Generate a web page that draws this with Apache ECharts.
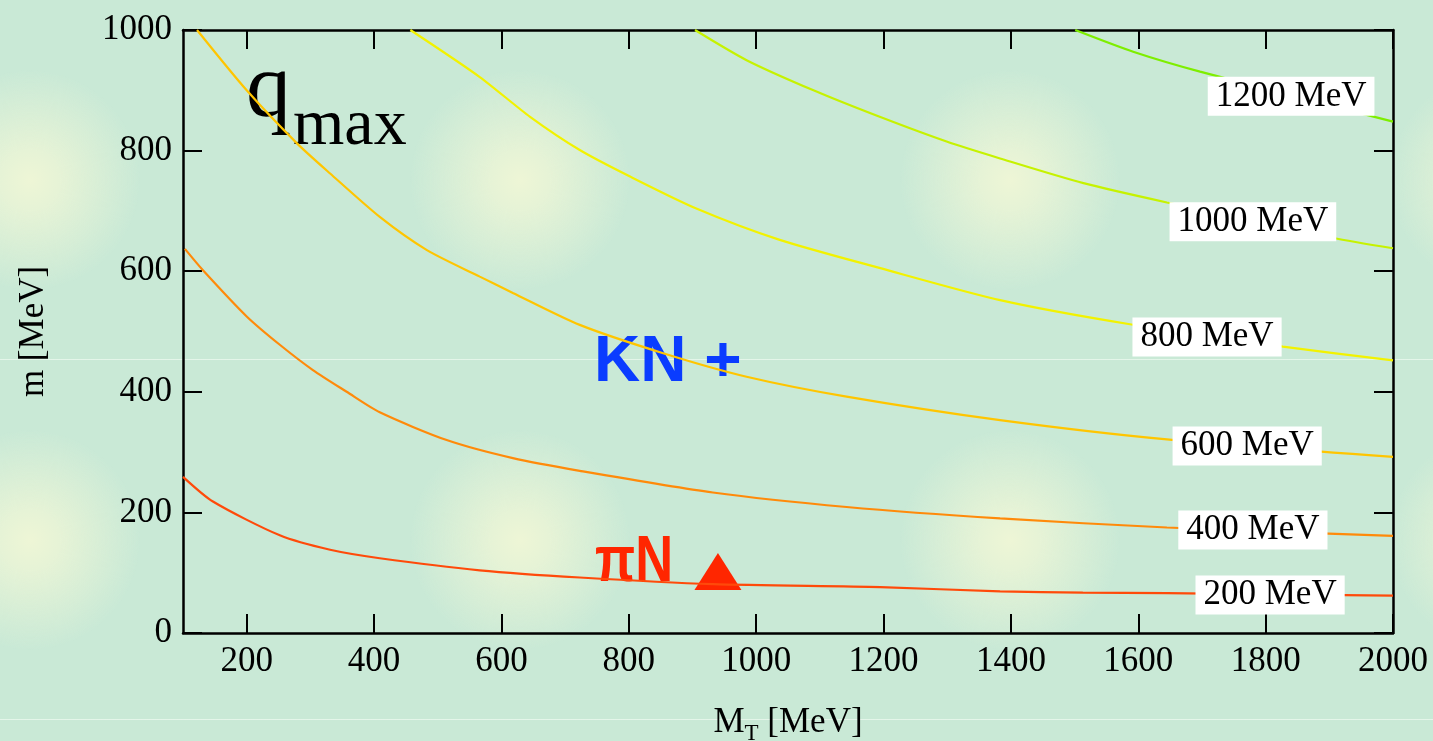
<!DOCTYPE html>
<html>
<head>
<meta charset="utf-8">
<script src="https://cdn.jsdelivr.net/npm/echarts@6/dist/echarts.min.js"></script>
<style>
html, body { margin: 0; padding: 0; }
body {
  width: 1433px; height: 741px; overflow: hidden;
  background-color: #c9e9d6;
  background-image:
    linear-gradient(to bottom, rgba(255,255,255,0) 359px, rgba(235,248,238,0.8) 359px, rgba(235,248,238,0.8) 361px, rgba(255,255,255,0) 361px),
    radial-gradient(circle 110px at 245px 180px, #eef6d6 0px, #e6f3d6 30px, rgba(201,233,214,0) 110px);
  background-size: 490px 360px;
  background-position: -215px 0;
}
#chart { width: 1433px; height: 741px; }
</style>
</head>
<body>
<div id="chart"></div>
<script>
// x ticks / labels (MeV)
const xTicks = [200, 400, 600, 800, 1000, 1200, 1400, 1600, 1800, 2000];

// contour lines of q_max: [M_T, m]
const q200 = [[100, 259], [147, 218], [252, 162], [331, 138], [409, 124], [566, 104], [723, 92],
  [932, 81], [1195, 76], [1383, 69], [1513, 67], [1645, 66], [2000, 62]];
const q400 = [[103, 637], [131, 602], [200, 525], [252, 478], [304, 436], [357, 400], [409, 366],
  [514, 320], [618, 290], [723, 269], [932, 233], [1142, 209], [1383, 190], [1645, 175], [2000, 161]];
const q600 = [[122, 1000], [200, 900], [279, 812], [331, 762], [409, 690], [483, 635], [566, 591],
  [618, 564], [723, 511], [854, 464], [985, 425], [1142, 392], [1383, 353], [1645, 321], [2000, 292]];
const q800 = [[457, 1000], [566, 922], [645, 856], [723, 801], [802, 757], [906, 704], [1037, 652],
  [1195, 605], [1383, 552], [1587, 512], [1827, 475], [2000, 452]];
const q1000 = [[904, 1000], [985, 950], [1090, 900], [1194, 856], [1299, 815], [1383, 787],
  [1514, 746], [1645, 714], [1906, 655], [2000, 638]];
const q1200 = [[1501, 1000], [1592, 964], [1697, 931], [2000, 848]];

const curves = [q200, q400, q600, q800, q1000, q1200];
const curveNames = ['200 MeV', '400 MeV', '600 MeV', '800 MeV', '1000 MeV', '1200 MeV'];
// where the white name boxes sit, in data coords
const nameAt = [[1807, 63], [1780, 171], [1771, 310], [1708, 491], [1780, 682], [1840, 890]];

// the nucleon marker
const nucleon = [[940, 102]];

const lineColors = ['#ff4a0a', '#ff8a0a', '#ffc500', '#f2f200', '#c6f200', '#7eee00'];
const serif = '"Liberation Serif", "Times New Roman", serif';

const chart = echarts.init(document.getElementById('chart'));

const frameLine = { show: true, onZero: false, lineStyle: { color: '#000', width: 2.5 } };
const frameTick = { show: true, inside: true, length: 19, lineStyle: { color: '#000', width: 2 } };

const series = curves.map((pts, i) => ({
  type: 'line',
  name: curveNames[i],
  data: pts,
  smooth: 0.25,
  showSymbol: false,
  silent: true,
  lineStyle: { color: lineColors[i], width: 2.2 },
  markPoint: {
    symbol: 'rect',
    symbolSize: 1,
    silent: true,
    animation: false,
    itemStyle: { color: 'rgba(0,0,0,0)' },
    label: {
      show: true,
      position: 'inside',
      formatter: curveNames[i],
      color: '#000',
      fontFamily: serif,
      fontSize: 35,
      backgroundColor: '#fff',
      padding: [3, 8, 1, 8]
    },
    data: [{ coord: nameAt[i] }]
  }
}));

series.push({
  type: 'scatter',
  data: nucleon,
  symbol: 'triangle',
  symbolSize: [47, 37],
  silent: true,
  itemStyle: { color: '#ff2600', opacity: 1 }
});

const plain = v => String(v);

chart.setOption({
  animation: false,
  backgroundColor: 'transparent',
  grid: { left: 183, right: 40, top: 30, bottom: 108, outerBoundsMode: 'none', containLabel: false },
  xAxis: [{
    type: 'value', min: 100, max: 2000, position: 'bottom',
    axisLine: frameLine,
    axisTick: Object.assign({ customValues: xTicks }, frameTick),
    axisLabel: { customValues: xTicks, formatter: plain, margin: 11, color: '#000', fontFamily: serif, fontSize: 35 },
    splitLine: { show: false },
    name: '{a|M}{b|T}{a| [MeV]}',
    nameLocation: 'middle',
    nameGap: 68,
    nameTextStyle: {
      rich: {
        a: { fontFamily: serif, fontSize: 35, color: '#000', lineHeight: 44 },
        b: { fontFamily: serif, fontSize: 23, color: '#000', lineHeight: 23, verticalAlign: 'bottom' }
      }
    }
  }, {
    type: 'value', min: 100, max: 2000, position: 'top',
    axisLine: frameLine,
    axisTick: Object.assign({ customValues: xTicks }, frameTick),
    axisLabel: { show: false },
    splitLine: { show: false }
  }],
  yAxis: [{
    type: 'value', min: 0, max: 1000, interval: 200, position: 'left',
    axisLine: frameLine,
    axisTick: frameTick,
    axisLabel: { formatter: plain, margin: 11, color: '#000', fontFamily: serif, fontSize: 35 },
    splitLine: { show: false },
    name: 'm [MeV]',
    nameLocation: 'middle',
    nameGap: 132,
    nameTextStyle: { fontFamily: serif, fontSize: 35, color: '#000' }
  }, {
    type: 'value', min: 0, max: 1000, interval: 200, position: 'right',
    axisLine: frameLine,
    axisTick: frameTick,
    axisLabel: { show: false },
    splitLine: { show: false }
  }],
  graphic: [
    { type: 'text', left: 246, top: 47, silent: true,
      style: { text: 'q', font: '90px ' + serif, fill: '#000' } },
    { type: 'text', left: 293, top: 94, silent: true,
      style: { text: 'max', font: '66px ' + serif, fill: '#000' } },
    { type: 'text', left: 594, top: 331, silent: true,
      style: { text: 'KN +', font: 'bold 64px "Liberation Sans", Arial, sans-serif', fill: '#0a3cff' } },
    { type: 'text', x: 595, y: 531, scaleX: 0.82, silent: true,
      style: { text: 'πN', font: 'bold 64px "Liberation Sans", Arial, sans-serif', fill: '#ff2600' } }
  ],
  series: series
});
</script>
</body>
</html>
